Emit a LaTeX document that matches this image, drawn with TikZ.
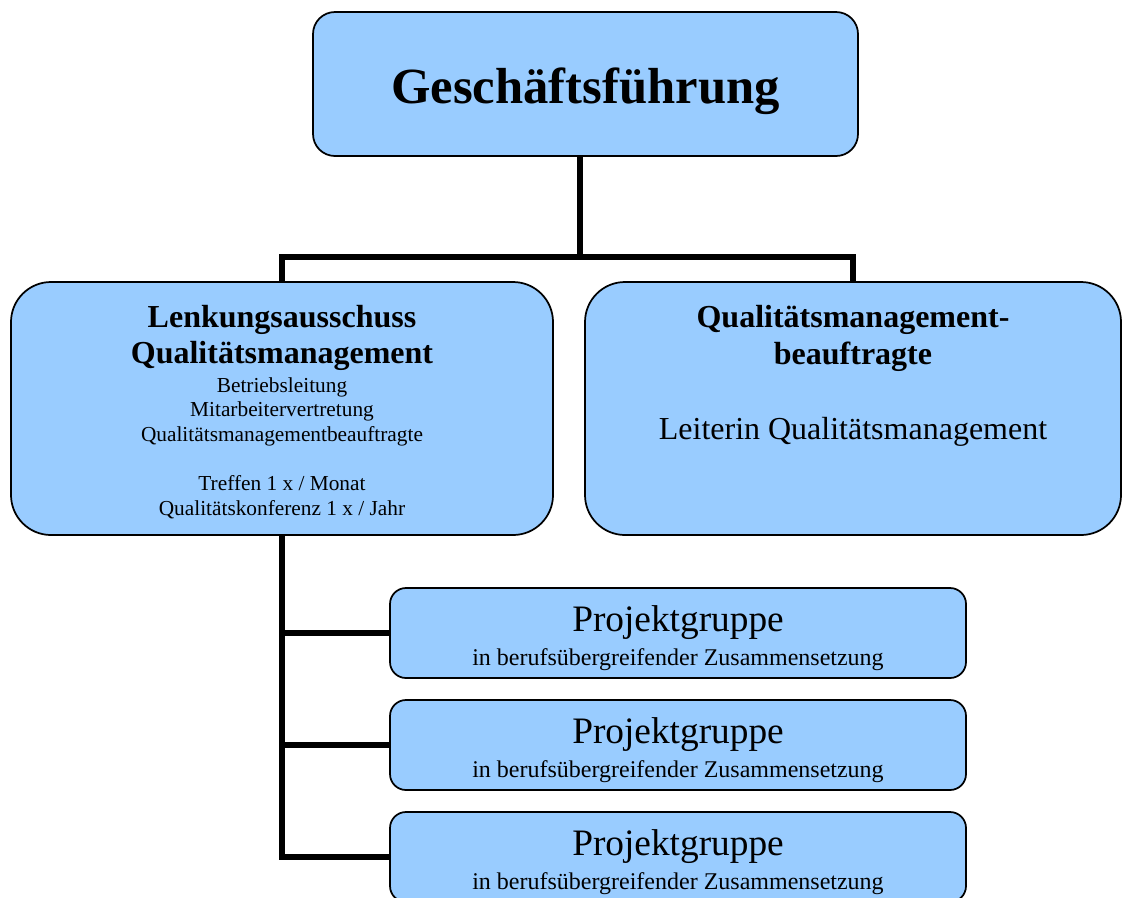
\documentclass[tikz,border=0pt]{standalone}
\usepackage{fontspec}
\setmainfont{Liberation Serif}
\definecolor{qmblue}{HTML}{99CCFF}
\tikzset{
  orgbox/.style={draw=black, line width=1.3pt, fill=qmblue, inner sep=0pt, align=center},
  orgline/.style={line width=4.3pt}
}
\newcommand{\bigbold}{\fontsize{24}{26}\selectfont\bfseries}
\newcommand{\smalltext}{\fontsize{16}{18.5}\selectfont}
\begin{document}
\begin{tikzpicture}[x=0.75pt, y=-0.75pt]
\useasboundingbox (0,0) rectangle (1123,897);
\clip (0,0) rectangle (1123,897);

\node[orgbox, minimum width=408.75pt, minimum height=108pt, rounded corners=16.5pt,
font=\fontsize{38}{40}\selectfont\bfseries, text height=37pt, text depth=8pt]
(gf) at (585.5,84) {Geschäftsführung};

\node[orgbox, minimum width=406.5pt, minimum height=189.75pt, rounded corners=30pt,
font=\smalltext] (lenkung) at (282,408.5) {
\rule{0pt}{22pt}{\bigbold Lenkungsausschuss}\\[3.75pt]
{\bigbold Qualitätsmanagement}\\[3pt]
Betriebsleitung\\
Mitarbeitervertretung\\
Qualitätsmanagementbeauftragte\\[18.25pt]
Treffen 1 x / Monat\\
Qualitätskonferenz 1 x / Jahr
};

\node[orgbox, minimum width=402pt, minimum height=189.75pt, rounded corners=30pt]
(qmb) at (853,408.5) {};
\node[align=center, anchor=north, inner sep=0pt, font=\fontsize{24}{26}\selectfont]
(qmbtext) at (853,305) {
{\bfseries Qualitätsmanagement-}\\[1.5pt]
{\bfseries beauftragte}\\[30.75pt]
Leiterin Qualitätsmanagement
};

\foreach \i/\y in {1/633, 2/745, 3/857} {
\node[orgbox, minimum width=432pt, minimum height=67.5pt, rounded corners=12pt,
font=\fontsize{18}{25.25}\selectfont] (pg\i) at (678,\y) {
\rule{0pt}{27.5pt}{\fontsize{28}{30}\selectfont Projektgruppe}\\
in berufsübergreifender Zusammensetzung
};
}

% Verbindungen
\coordinate (split) at (580,257);
\draw[orgline] (split |- gf.south) -- (split);
\draw[orgline] (lenkung.north) |- (split) -| (qmb.north);
\draw[orgline] (lenkung.south) |- (pg3.west);
\draw[orgline] (lenkung.south |- pg1.west) -- (pg1.west);
\draw[orgline] (lenkung.south |- pg2.west) -- (pg2.west);
\end{tikzpicture}
\end{document}
